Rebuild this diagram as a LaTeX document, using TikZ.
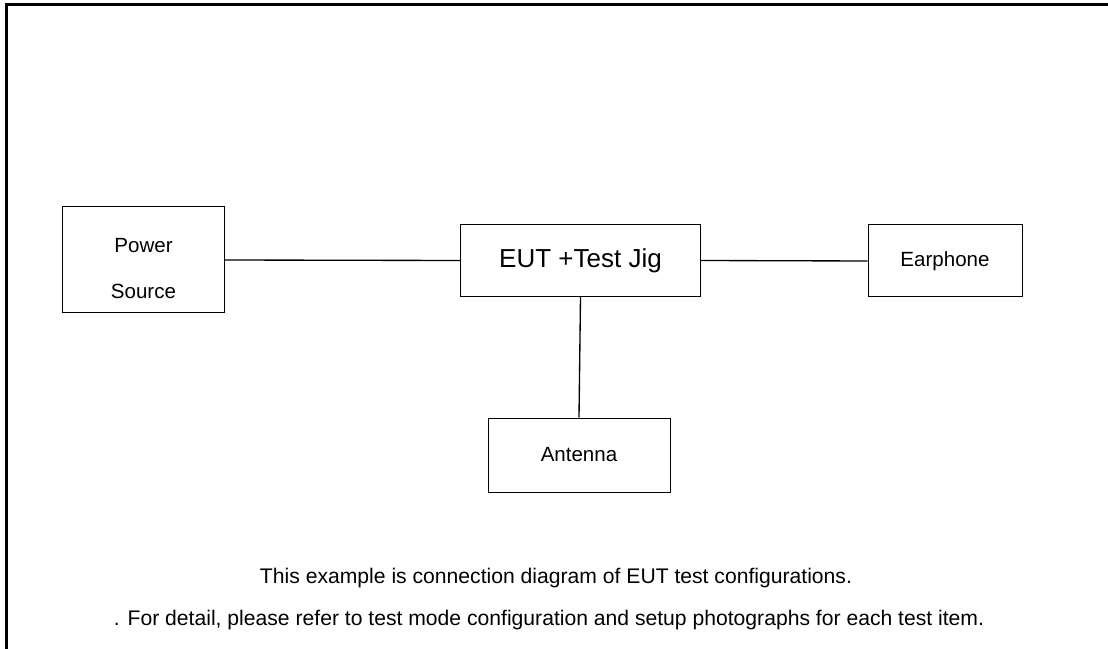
\documentclass[tikz,border=0pt]{standalone}
\usepackage{fontspec}
\setmainfont{Liberation Sans}
\usepackage{tikz}

\begin{document}
\begin{tikzpicture}[x=0.75pt, y=-0.75pt,
    unitbox/.style={draw, black, line width=0.75pt, inner sep=0pt, align=center, font=\fontsize{15.4}{18.5}\selectfont},
    wire/.style={black, line width=1pt}]
\useasboundingbox (0,0) rectangle (1108,649);

% Draw the frame
\draw[line width=2.25pt] (6,649) -- (6,5) -- (1108,5);

% Draw the units
\node[unitbox, minimum width=162*0.75pt, minimum height=106*0.75pt] (power) at (143.5,260) {\rule{0pt}{23pt}Power\\[16pt]Source};
\node[unitbox, minimum width=240*0.75pt, minimum height=72*0.75pt, font=\fontsize{19.5}{23}\selectfont] (eut) at (580.5,260.5) {EUT +Test Jig};
\node[unitbox, minimum width=154*0.75pt, minimum height=72*0.75pt] (ear) at (945,261) {Earphone};
\node[unitbox, minimum width=182*0.75pt, minimum height=74*0.75pt] (ant) at (579,455) {Antenna};

% Draw the cables
\draw[wire] (power.east) -- (eut.west);
\draw[wire] (eut.east) -- (ear.west);
\draw[wire] (eut.south) -- (ant.north);

% Add notes
\node[font=\fontsize{15.85}{19}\selectfont] (note1) at (556,578) {This example is connection diagram of EUT test configurations.};
\node[font=\fontsize{15.85}{19}\selectfont] (note2) at (549,620) {. For detail, please refer to test mode configuration and setup photographs for each test item.};

\end{tikzpicture}
\end{document}
